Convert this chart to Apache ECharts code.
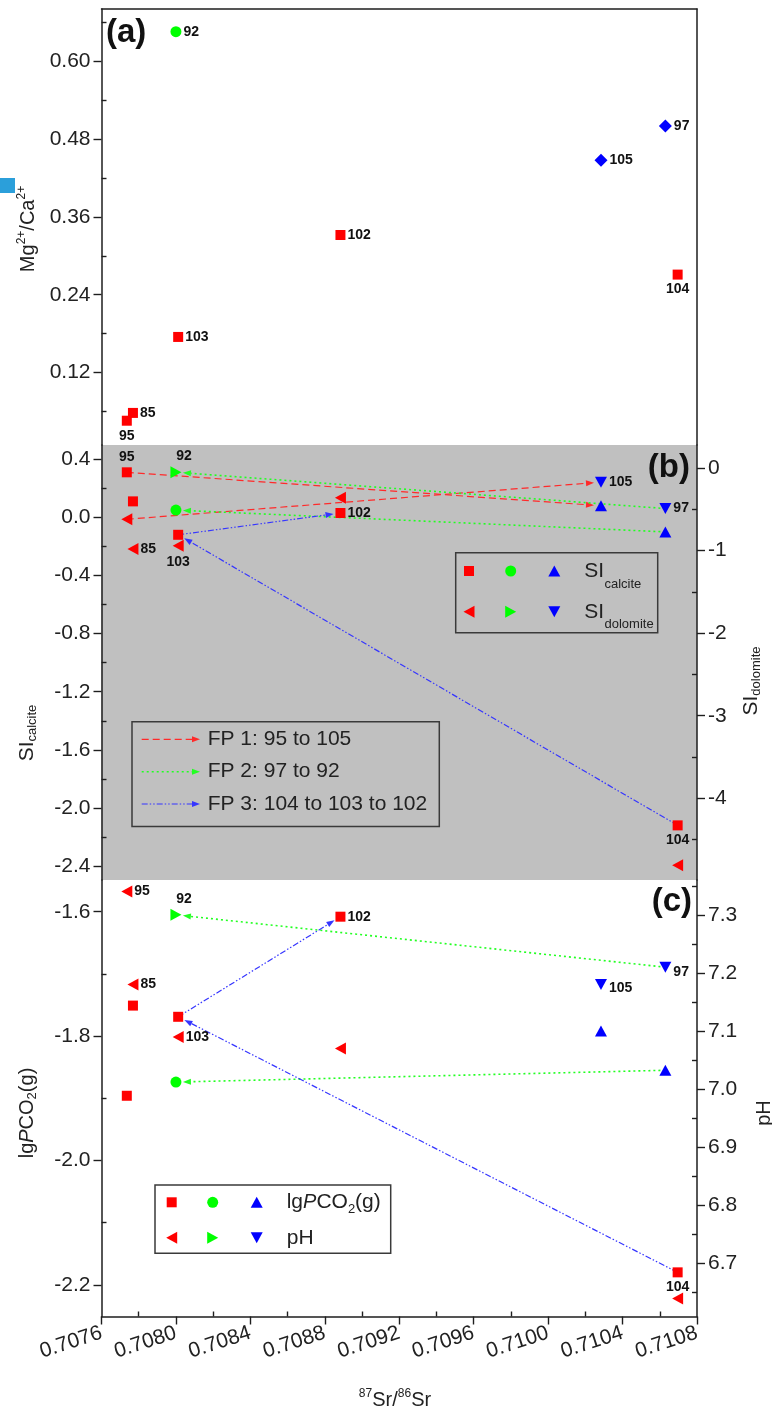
<!DOCTYPE html>
<html>
<head>
<meta charset="utf-8">
<script src="https://cdn.jsdelivr.net/npm/echarts@6/dist/echarts.min.js"></script>
<style>
  html, body { margin: 0; padding: 0; background: #ffffff; }
  #chart { width: 772px; height: 1413px; }
</style>
</head>
<body>
<div id="chart"></div>
<script>
// ---- Data ----------------------------------------------------------------
// Sample IDs and their 87Sr/86Sr ratios
const samples  = ['95', '85', '92', '103', '102', '105', '97', '104'];
const srRatio  = [0.707736, 0.707769, 0.708000, 0.708012, 0.708884, 0.710284, 0.710630, 0.710696];
// Colour group of each sample
const sampleGroup = ['red', 'red', 'green', 'red', 'red', 'blue', 'blue', 'red'];

// (a) Mg2+/Ca2+
const mgCa       = [0.046, 0.058, 0.645, 0.175, 0.332, 0.447, 0.500, 0.271];
// (b) saturation indices
const siCalcite  = [0.31, 0.11, 0.05, -0.12, 0.03, 0.08, -0.10, -2.12];
const siDolomite = [-0.62, -0.98, -0.05, -0.94, -0.36, -0.17, -0.49, -4.81];
// (c) lgPCO2(g) and pH
const lgPCO2     = [-1.896, -1.751, -1.874, -1.769, -1.608, -1.792, -1.855, -2.180];
const pH         = [7.34, 7.18, 7.30, 7.09, 7.07, 7.18, 7.21, 6.64];

// Flow paths between samples
const flowPathNames   = ['FP 1: 95 to 105', 'FP 2: 97 to 92', 'FP 3: 104 to 103 to 102'];
const flowPathSamples = [['95', '105'], ['97', '92'], ['104', '103', '102']];

// Tick values
const xTicks          = [0.7076, 0.7080, 0.7084, 0.7088, 0.7092, 0.7096, 0.7100, 0.7104, 0.7108];
const xMinorTicks     = [0.7078, 0.7082, 0.7086, 0.7090, 0.7094, 0.7098, 0.7102, 0.7106];
const mgTicks         = [0.12, 0.24, 0.36, 0.48, 0.60];
const mgMinorTicks    = [0.06, 0.18, 0.30, 0.42, 0.54, 0.66];
const siCalTicks      = [-2.4, -2.0, -1.6, -1.2, -0.8, -0.4, 0.0, 0.4];
const siCalMinorTicks = [-2.2, -1.8, -1.4, -1.0, -0.6, -0.2, 0.2];
const siDolTicks      = [-4, -3, -2, -1, 0];
const siDolMinorTicks = [-4.5, -3.5, -2.5, -1.5, -0.5];
const pco2Ticks       = [-2.2, -2.0, -1.8, -1.6];
const pco2MinorTicks  = [-2.1, -1.9, -1.7];
const pHTicks         = [6.7, 6.8, 6.9, 7.0, 7.1, 7.2, 7.3];
const pHMinorTicks    = [6.65, 6.75, 6.85, 6.95, 7.05, 7.15, 7.25, 7.35];

// ---- Styling -------------------------------------------------------------
const FONT = '"Liberation Sans", Arial, Helvetica, sans-serif';
const AXC = '#1e1e1e';
const groupColor = { red: '#FF0000', green: '#00FF00', blue: '#0000FF' };
const flowStyle = [
  { color: '#FF2a2a', dash: [7, 4], width: 1.2 },
  { color: '#22FF22', dash: [2, 3], width: 1.6 },
  { color: '#3535FF', dash: [6, 2, 1.5, 2, 1.5, 2], width: 1.2 }
];

// Plot areas of the three stacked panels
const PL = 101.5, PW = 595.5;
const grids = [
  { left: PL, top: 9,   width: PW, height: 436 },
  { left: PL, top: 445, width: PW, height: 435, show: true, backgroundColor: '#C0C0C0', borderWidth: 0 },
  { left: PL, top: 880, width: PW, height: 436.5 }
].map(g => Object.assign({ outerBoundsMode: 'none', containLabel: false }, g));

const X_MIN = 0.7076, X_MAX = 0.7108;

function lineOnlyAxis(extra) {
  return Object.assign({
    type: 'value',
    axisLine: { show: true, onZero: false, lineStyle: { color: AXC, width: 1.5 } },
    axisTick: { show: false }, axisLabel: { show: false }, splitLine: { show: false }
  }, extra);
}
function majorAxis(extra, ticks, dec, labelExtra) {
  return Object.assign({
    type: 'value',
    axisLine: { show: true, onZero: false, lineStyle: { color: AXC, width: 1.5 } },
    axisTick: { show: true, inside: false, length: 8, customValues: ticks, lineStyle: { color: AXC, width: 1.4 } },
    axisLabel: Object.assign({
      show: true, customValues: ticks, formatter: v => v.toFixed(dec),
      fontSize: 21, color: '#222', fontFamily: FONT, margin: 11
    }, labelExtra || {}),
    splitLine: { show: false }
  }, extra);
}
function minorAxis(extra, ticks) {
  return Object.assign({
    type: 'value',
    axisLine: { show: false, onZero: false },
    axisTick: { show: true, inside: true, length: 5, customValues: ticks, lineStyle: { color: AXC, width: 1.4 } },
    axisLabel: { show: false }, splitLine: { show: false }
  }, extra);
}

const xAxes = [
  lineOnlyAxis({ gridIndex: 0, position: 'top', min: X_MIN, max: X_MAX }),                      // 0 panel a
  lineOnlyAxis({ gridIndex: 1, min: X_MIN, max: X_MAX, axisLine: { show: false, onZero: false } }), // 1 panel b
  majorAxis({ gridIndex: 2, position: 'bottom', min: X_MIN, max: X_MAX }, xTicks, 4,
            { rotate: 18, margin: 16 }),                                                          // 2 panel c
  minorAxis({ gridIndex: 2, position: 'bottom', min: X_MIN, max: X_MAX }, xMinorTicks)            // 3
];

const Y = {
  mg:    0, mgMinor: 1, aRight: 2,
  sic:   3, sicMinor: 4, sid: 5, sidMinor: 6,
  pco2:  7, pco2Minor: 8, ph: 9, phMinor: 10
};
const yRange = {
  mg:   [0.0086, 0.680],
  sic:  [-2.496, 0.498],
  sid:  [-4.99, 0.28],
  pco2: [-2.251, -1.549],
  ph:   [6.609, 7.360]
};
const yAxes = [
  majorAxis({ gridIndex: 0, position: 'left', min: yRange.mg[0], max: yRange.mg[1] }, mgTicks, 2),
  minorAxis({ gridIndex: 0, position: 'left', min: yRange.mg[0], max: yRange.mg[1] }, mgMinorTicks),
  lineOnlyAxis({ gridIndex: 0, position: 'right', min: yRange.mg[0], max: yRange.mg[1] }),
  majorAxis({ gridIndex: 1, position: 'left', min: yRange.sic[0], max: yRange.sic[1] }, siCalTicks, 1),
  minorAxis({ gridIndex: 1, position: 'left', min: yRange.sic[0], max: yRange.sic[1] }, siCalMinorTicks),
  majorAxis({ gridIndex: 1, position: 'right', min: yRange.sid[0], max: yRange.sid[1] }, siDolTicks, 0),
  minorAxis({ gridIndex: 1, position: 'right', min: yRange.sid[0], max: yRange.sid[1] }, siDolMinorTicks),
  majorAxis({ gridIndex: 2, position: 'left', min: yRange.pco2[0], max: yRange.pco2[1] }, pco2Ticks, 1),
  minorAxis({ gridIndex: 2, position: 'left', min: yRange.pco2[0], max: yRange.pco2[1] }, pco2MinorTicks),
  majorAxis({ gridIndex: 2, position: 'right', min: yRange.ph[0], max: yRange.ph[1] }, pHTicks, 1),
  minorAxis({ gridIndex: 2, position: 'right', min: yRange.ph[0], max: yRange.ph[1] }, pHMinorTicks)
];

// ---- Marker shapes -------------------------------------------------------
const shapesA   = { red: { symbol: 'rect', size: 10 }, green: { symbol: 'circle', size: 11 }, blue: { symbol: 'diamond', size: 13 } };
const shapesCal = { red: { symbol: 'rect', size: 10 }, green: { symbol: 'circle', size: 11 }, blue: { symbol: 'triangle', size: [12, 11] } };
const shapesDol = { red: { symbol: 'triangle', size: [12, 11], rotate: 90 },
                    green: { symbol: 'triangle', size: [12, 11], rotate: -90 },
                    blue: { symbol: 'triangle', size: [12, 11], rotate: 180 } };

// Where each sample ID is written next to its marker
const labelsA      = { '95': { pos: 'bottom' }, '85': { pos: 'right' }, '92': { pos: 'right' }, '103': { pos: 'right' },
                       '102': { pos: 'right' }, '105': { pos: 'right' }, '97': { pos: 'right' }, '104': { pos: 'bottom' } };
const labelsBCal   = { '95': { pos: 'top' }, '102': { pos: 'right' }, '104': { pos: 'bottom' } };
const labelsBDol   = { '92': { pos: 'top', off: [8, 0] }, '85': { pos: 'right' }, '103': { pos: 'bottom' },
                       '105': { pos: 'right' }, '97': { pos: 'right' } };
const labelsCPco2  = { '102': { pos: 'right' }, '104': { pos: 'bottom' } };
const labelsCPh    = { '95': { pos: 'right' }, '92': { pos: 'top', off: [8, 0] }, '85': { pos: 'right' },
                       '103': { pos: 'right' }, '105': { pos: 'right', off: [0, 4] }, '97': { pos: 'right', off: [0, 5] } };

const labelText = { fontSize: 14, fontWeight: 'bold', color: '#111', fontFamily: FONT };

function markerSeries(xIdx, yIdx, values, shapes, labelCfg) {
  return ['red', 'green', 'blue'].map(g => ({
    type: 'scatter', xAxisIndex: xIdx, yAxisIndex: yIdx, z: 5,
    symbol: shapes[g].symbol, symbolRotate: shapes[g].rotate || 0, symbolSize: shapes[g].size,
    itemStyle: { color: groupColor[g], opacity: 1 },
    emphasis: { disabled: true },
    data: samples.map((s, i) => i).filter(i => sampleGroup[i] === g).map(i => {
      const item = { name: samples[i], value: [srRatio[i], values[i]] };
      const lc = labelCfg[samples[i]];
      if (lc) {
        item.label = Object.assign({ show: true, position: lc.pos, offset: lc.off || [0, 0],
                                     distance: lc.pos === 'right' ? 2 : 3, formatter: '{b}' }, labelText);
      }
      return item;
    })
  }));
}

// ---- Flow-path arrows ----------------------------------------------------
function segments(values, path) {
  const segs = [];
  for (let k = 0; k < path.length - 1; k++) {
    const a = samples.indexOf(path[k]), b = samples.indexOf(path[k + 1]);
    segs.push([srRatio[a], values[a], srRatio[b], values[b]]);
  }
  return segs;
}
function arrowSeries(xIdx, yIdx, segs, st) {
  const GAP = 7, HEAD = 8, HW = 3;
  return {
    type: 'custom', xAxisIndex: xIdx, yAxisIndex: yIdx, z: 3, silent: true,
    data: segs, encode: { x: [0, 2], y: [1, 3] },
    renderItem: function (params, api) {
      const p1 = api.coord([api.value(0), api.value(1)]);
      const p2 = api.coord([api.value(2), api.value(3)]);
      const dx = p2[0] - p1[0], dy = p2[1] - p1[1], L = Math.hypot(dx, dy);
      const ux = dx / L, uy = dy / L, nx = -uy, ny = ux;
      const tip = [p2[0] - ux * GAP, p2[1] - uy * GAP];
      const base = [tip[0] - ux * HEAD, tip[1] - uy * HEAD];
      return {
        type: 'group', children: [
          { type: 'line', shape: { x1: p1[0], y1: p1[1], x2: base[0], y2: base[1] },
            style: { stroke: st.color, lineWidth: st.width, lineDash: st.dash, fill: null } },
          { type: 'polygon', shape: { points: [tip, [base[0] + nx * HW, base[1] + ny * HW], [base[0] - nx * HW, base[1] - ny * HW]] },
            style: { fill: st.color } }
        ]
      };
    }
  };
}

const series = [].concat(
  // (b) flow paths
  arrowSeries(1, Y.sic, segments(siCalcite, flowPathSamples[0]), flowStyle[0]),
  arrowSeries(1, Y.sid, segments(siDolomite, flowPathSamples[0]), flowStyle[0]),
  arrowSeries(1, Y.sic, segments(siCalcite, flowPathSamples[1]), flowStyle[1]),
  arrowSeries(1, Y.sid, segments(siDolomite, flowPathSamples[1]), flowStyle[1]),
  arrowSeries(1, Y.sic, segments(siCalcite, flowPathSamples[2]), flowStyle[2]),
  // (c) flow paths
  arrowSeries(2, Y.pco2, segments(lgPCO2, flowPathSamples[1]), flowStyle[1]),
  arrowSeries(2, Y.ph, segments(pH, flowPathSamples[1]), flowStyle[1]),
  arrowSeries(2, Y.pco2, segments(lgPCO2, flowPathSamples[2]), flowStyle[2]),
  // markers
  markerSeries(0, Y.mg, mgCa, shapesA, labelsA),
  markerSeries(1, Y.sic, siCalcite, shapesCal, labelsBCal),
  markerSeries(1, Y.sid, siDolomite, shapesDol, labelsBDol),
  markerSeries(2, Y.pco2, lgPCO2, shapesCal, labelsCPco2),
  markerSeries(2, Y.ph, pH, shapesDol, labelsCPh)
);

// ---- Titles, panel letters and legends ----------------------------------
const rich = {
  sup: { fontSize: 12, lineHeight: 12, verticalAlign: 'top', fontFamily: FONT, fill: '#222' },
  sub: { fontSize: 13, lineHeight: 13, verticalAlign: 'bottom', fontFamily: FONT, fill: '#222' },
  i:   { fontStyle: 'italic', fontSize: 20, fontFamily: FONT, fill: '#222' }
};
function title(text, x, y, rot, size) {
  return { type: 'text', x: x, y: y, rotation: rot ? Math.PI / 2 : 0, z: 20,
    style: { text: text, rich: rich, fontSize: size || 20, lineHeight: 24, fontFamily: FONT, fill: '#222',
             align: 'center', verticalAlign: 'middle' } };
}
function plainText(text, x, y, size, opts) {
  return { type: 'text', x: x, y: y, z: 20,
    style: Object.assign({ text: text, fontSize: size, fontFamily: FONT, fill: '#222',
                           align: 'left', verticalAlign: 'middle' }, opts || {}) };
}
function tri(cx, cy, dir, color) {
  const w = 6, h = 5.5;
  let pts;
  if (dir === 'up')    pts = [[cx, cy - h], [cx + w, cy + h], [cx - w, cy + h]];
  if (dir === 'down')  pts = [[cx, cy + h], [cx + w, cy - h], [cx - w, cy - h]];
  if (dir === 'left')  pts = [[cx - h, cy], [cx + h, cy - w], [cx + h, cy + w]];
  if (dir === 'right') pts = [[cx + h, cy], [cx - h, cy - w], [cx - h, cy + w]];
  return { type: 'polygon', z: 20, shape: { points: pts }, style: { fill: color } };
}
function legendSymbols(y1, y2, xs) {
  return [
    { type: 'rect', z: 20, shape: { x: xs[0] - 5, y: y1 - 5, width: 10, height: 10 }, style: { fill: groupColor.red } },
    { type: 'circle', z: 20, shape: { cx: xs[1], cy: y1, r: 5.5 }, style: { fill: groupColor.green } },
    tri(xs[2], y1, 'up', groupColor.blue),
    tri(xs[0], y2, 'left', groupColor.red),
    tri(xs[1], y2, 'right', groupColor.green),
    tri(xs[2], y2, 'down', groupColor.blue)
  ];
}
function fpLegendRow(k, y) {
  const st = flowStyle[k], x1 = 141.7, tip = 200, base = tip - 8;
  return [
    { type: 'line', z: 20, shape: { x1: x1, y1: y, x2: base, y2: y },
      style: { stroke: st.color, lineWidth: st.width, lineDash: st.dash } },
    { type: 'polygon', z: 20, shape: { points: [[tip, y], [base, y - 3], [base, y + 3]] }, style: { fill: st.color } },
    plainText(flowPathNames[k], 207.7, y, 21)
  ];
}

const graphics = [].concat(
  [{ type: 'rect', z: 20, shape: { x: 0, y: 178, width: 15, height: 15 }, style: { fill: '#2B9FDA' } }],
  // panel letters
  [plainText('(a)', 106, 33, 33, { fontWeight: 'bold', fill: '#111' }),
   plainText('(b)', 690, 468, 33, { fontWeight: 'bold', fill: '#111', align: 'right' }),
   plainText('(c)', 692, 902, 33, { fontWeight: 'bold', fill: '#111', align: 'right' })],
  // axis titles
  [title('Mg{sup|2+}/Ca{sup|2+}', 28, 229, true),
   title('SI{sub|calcite}', 27, 733, true, 21),
   title('SI{sub|dolomite}', 751, 681, true, 21),
   title('lg{i|P}CO{sub|2}(g)', 27, 1113, true),
   title('pH', 764, 1113, true),
   title('{sup|87}Sr/{sup|86}Sr', 395, 1400, false)],
  // (b) legend of markers
  [{ type: 'rect', z: 19, shape: { x: 455.7, y: 552.7, width: 202, height: 80 },
     style: { fill: null, stroke: '#3a3a3a', lineWidth: 1.5 } }],
  legendSymbols(571, 611.7, [469, 510.7, 554.3]),
  [plainText('SI', 584.3, 571.5, 21), plainText('calcite', 604.5, 584, 13),
   plainText('SI', 584.3, 612, 21), plainText('dolomite', 604.5, 624.5, 13)],
  // (b) flow-path legend
  [{ type: 'rect', z: 19, shape: { x: 132, y: 721.7, width: 307.3, height: 104.8 },
     style: { fill: null, stroke: '#3a3a3a', lineWidth: 1.5 } }],
  fpLegendRow(0, 739.3), fpLegendRow(1, 771.7), fpLegendRow(2, 804),
  // (c) legend of markers
  [{ type: 'rect', z: 19, shape: { x: 155, y: 1185, width: 235.7, height: 68.3 },
     style: { fill: '#ffffff', stroke: '#3a3a3a', lineWidth: 1.5 } }],
  legendSymbols(1202.3, 1237.7, [171.7, 212.7, 256.7]),
  [plainText('lg{i|P}CO{sub|2}(g)', 286.7, 1202.5, 21, { rich: rich, lineHeight: 26 }),
   plainText('pH', 286.7, 1238, 21)]
);

const chart = echarts.init(document.getElementById('chart'), null, { renderer: 'canvas' });
chart.setOption({
  animation: false,
  backgroundColor: '#ffffff',
  grid: grids,
  xAxis: xAxes,
  yAxis: yAxes,
  series: series,
  graphic: { elements: graphics }
});
</script>
</body>
</html>
